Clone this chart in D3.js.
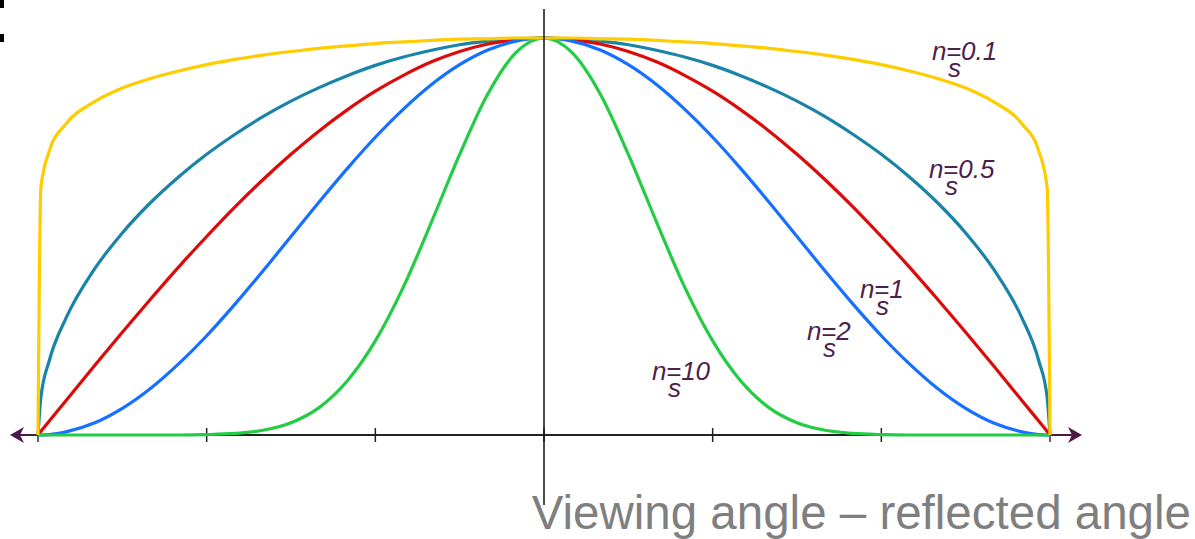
<!DOCTYPE html>
<html>
<head>
<meta charset="utf-8">
<script src="https://cdn.jsdelivr.net/npm/d3@7"></script>
<style>
  body { margin: 0; background: #fff; }
  svg { display: block; }
  .label { font-family: "Liberation Sans", Arial, sans-serif; font-style: italic; font-size: 26px; fill: #4d1f4d; }
  .title { font-family: "Liberation Sans", Arial, sans-serif; font-size: 47.5px; fill: #7f7f7f; }
</style>
</head>
<body>
<svg width="1195" height="539"></svg>
<script>
var svg = d3.select("svg");

// Angle (degrees) between viewing and reflected direction
var angles = [-90, -89.5, -88, -85, -80, -75, -70, -65, -60, -55, -50, -45, -40, -35, -30, -25, -20, -15, -10, -5,
              0, 5, 10, 15, 20, 25, 30, 35, 40, 45, 50, 55, 60, 65, 70, 75, 80, 85, 88, 89.5, 90];

// For each shininess exponent
var ns01 = [0, .622, .715, .784, .839, .874, .898, .917, .933, .946, .957, .966, .974, .980, .986, .990, .994, .997, .998, 1,
            1, 1, .998, .997, .994, .990, .986, .980, .974, .966, .957, .946, .933, .917, .898, .874, .839, .784, .715, .622, 0];
var ns05 = [0, .093, .187, .295, .417, .509, .585, .650, .707, .757, .802, .841, .875, .905, .931, .952, .969, .983, .992, .998,
            1, .998, .992, .983, .969, .952, .931, .905, .875, .841, .802, .757, .707, .650, .585, .509, .417, .295, .187, .093, 0];
var ns1 = [0, .009, .035, .087, .174, .259, .342, .423, .5, .574, .643, .707, .766, .819, .866, .906, .940, .966, .985, .996,
           1, .996, .985, .966, .940, .906, .866, .819, .766, .707, .643, .574, .5, .423, .342, .259, .174, .087, .035, .009, 0];
var ns2 = [0, 0, .001, .008, .030, .067, .117, .179, .25, .329, .413, .5, .587, .671, .75, .821, .883, .933, .970, .992,
           1, .992, .970, .933, .883, .821, .75, .671, .587, .5, .413, .329, .25, .179, .117, .067, .030, .008, .001, 0, 0];
var ns10 = [0, 0, 0, 0, 0, 0, 0, 0, .001, .004, .012, .031, .069, .136, .237, .373, .537, .707, .859, .963,
            1, .963, .859, .707, .537, .373, .237, .136, .069, .031, .012, .004, .001, 0, 0, 0, 0, 0, 0, 0, 0];

var seriesNames = ["0.5", "1", "2", "10", "0.1"];   // draw order
var seriesValues = [ns05, ns1, ns2, ns10, ns01];
var seriesColors = ["#1a84a8", "#dd0a0a", "#1670ff", "#22cc44", "#ffcc00"];

var tickAngles = [-90, -60, -30, 0, 30, 60, 90];

// label anchors (angle, value) for the n_s annotations
var labelNames = ["0.1", "0.5", "1", "2", "10"];
var labelAngle = [69.0, 68.5, 56.2, 46.8, 19.2];
var labelValue = [0.945, 0.647, 0.345, 0.239, 0.139];

var x = d3.scaleLinear().domain([-90, 90]).range([38, 1050]);
var y = d3.scaleLinear().domain([0, 1]).range([435, 38]);

// stray mark at top-left
svg.append("rect").attr("x", 0).attr("y", 0).attr("width", 4).attr("height", 8).attr("fill", "#000");
svg.append("rect").attr("x", 0).attr("y", 34).attr("width", 4).attr("height", 8).attr("fill", "#000");

// horizontal axis
var purple = "#4a1a4a";
svg.append("line").attr("x1", 16).attr("x2", 1078).attr("y1", y(0)).attr("y2", y(0))
    .attr("stroke", purple).attr("stroke-width", 2);
svg.append("line").attr("x1", x(-60)).attr("x2", x(60)).attr("y1", y(0)).attr("y2", y(0))
    .attr("stroke", "#222").attr("stroke-width", 2);

svg.selectAll(".tick")
    .data(tickAngles)
    .enter()
    .append("line")
    .attr("class", "tick")
    .attr("x1", function(d) { return x(d); })
    .attr("x2", function(d) { return x(d); })
    .attr("y1", y(0) - 7)
    .attr("y2", y(0) + 7)
    .attr("stroke", function(d) { return Math.abs(d) === 90 ? purple : "#222"; })
    .attr("stroke-width", 1.5);

// arrow heads
svg.append("path")
    .attr("d", "M10,435 L24,427 L20,435 L24,443 Z")
    .attr("fill", purple);
svg.append("path")
    .attr("d", "M1082,435 L1068,427 L1072,435 L1068,443 Z")
    .attr("fill", purple);

// curves
var line = d3.line()
    .x(function(d, i) { return x(angles[i]); })
    .y(function(d) { return y(d); })
    .curve(d3.curveMonotoneX);

svg.selectAll(".curve")
    .data(seriesValues)
    .enter()
    .append("path")
    .attr("class", "curve")
    .attr("d", line)
    .attr("fill", "none")
    .attr("stroke", function(d, i) { return seriesColors[i]; })
    .attr("stroke-width", 3.2)
    .attr("stroke-linejoin", "round");

// vertical axis
svg.append("line").attr("x1", x(0)).attr("x2", x(0)).attr("y1", 9).attr("y2", 505)
    .attr("stroke", "#111").attr("stroke-width", 1.5);

// n_s labels: "n", subscript "s" tucked under the "=", then "=value"
var labels = svg.selectAll(".lbl")
    .data(labelNames)
    .enter()
    .append("text")
    .attr("class", "label lbl")
    .attr("transform", function(d, i) { return "translate(" + x(labelAngle[i]) + "," + y(labelValue[i]) + ")"; })
    .attr("x", 0)
    .attr("y", 0);

labels.append("tspan").attr("x", 0).attr("y", 0).text("n");
labels.append("tspan").attr("x", 16).attr("y", 17).text("s");
labels.append("tspan").attr("x", 14).attr("y", 0).text(function(d) { return "=" + d; });

// axis title
svg.append("text")
    .attr("class", "title")
    .attr("text-anchor", "end")
    .attr("x", 1191)
    .attr("y", 529)
    .text("Viewing angle \u2013 reflected angle");
</script>
</body>
</html>
